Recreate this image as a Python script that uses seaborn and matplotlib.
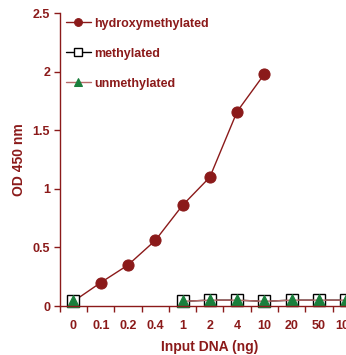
import numpy as np
import pandas as pd
import matplotlib
matplotlib.use("Agg")
import matplotlib.pyplot as plt
import seaborn as sns

# Input DNA amounts (ng), shown as evenly spaced categories
dna_labels = ["0", "0.1", "0.2", "0.4", "1", "2", "4", "10", "20", "50", "100"]

# OD 450 nm readings (NaN = not measured)
hydroxymethylated = [0.04, 0.20, 0.35, 0.56, 0.86, 1.10, 1.66, 1.98, np.nan, np.nan, np.nan]
methylated = [0.04, np.nan, np.nan, np.nan, 0.04, 0.05, 0.05, 0.04, 0.05, 0.05, 0.05]
unmethylated = [0.04, np.nan, np.nan, np.nan, 0.04, 0.05, 0.05, 0.04, 0.05, 0.05, 0.05]

y_ticks = [0, 0.5, 1, 1.5, 2, 2.5]
y_tick_labels = ["0", "0.5", "1", "1.5", "2", "2.5"]

DARK_RED = "#8b1a1a"
GREEN = "#1a7f3c"

sns.set_style("white")
plt.rcParams["font.family"] = ["Liberation Sans", "DejaVu Sans"]
plt.rcParams["font.weight"] = "bold"

fig = plt.figure(figsize=(3.46, 3.55), dpi=100)
ax = fig.add_axes([0.173, 0.138, 0.867, 0.825])

series = [
    ("hydroxymethylated", hydroxymethylated,
     dict(color=DARK_RED, marker="o", markersize=8, markerfacecolor=DARK_RED,
          markeredgecolor=DARK_RED, linewidth=1.0)),
    ("methylated", methylated,
     dict(color="black", marker="s", markersize=8, markerfacecolor="white",
          markeredgecolor="black", markeredgewidth=1.0, linewidth=1.0)),
    ("unmethylated", unmethylated,
     dict(color="#b86a6a", marker="^", markersize=9, markerfacecolor=GREEN,
          markeredgecolor=GREEN, linewidth=1.0)),
]

positions = np.arange(len(dna_labels))
for name, values, style in series:
    df = pd.DataFrame({"pos": positions, "od": values})
    # split into contiguous runs so gaps stay unconnected
    df["run"] = df["od"].isna().cumsum()
    df = df.dropna()
    for i, (_, seg) in enumerate(df.groupby("run")):
        sns.lineplot(data=seg, x="pos", y="od", ax=ax, clip_on=False,
                     label=name if i == 0 else None, **style)

ax.set_xlim(-0.5, len(dna_labels) - 0.5)
ax.set_ylim(0, 2.5)

# category labels centred, tick marks on category boundaries
ax.set_xticks(positions)
ax.set_xticklabels(dna_labels)
ax.set_xticks(np.arange(-0.5, len(dna_labels), 1.0), minor=True)
ax.tick_params(axis="x", which="major", length=0, pad=10,
               labelsize=9, labelcolor=DARK_RED)
ax.tick_params(axis="x", which="minor", length=4, width=1, color=DARK_RED,
               direction="out", bottom=True)
ax.set_yticks(y_ticks)
ax.set_yticklabels(y_tick_labels)
ax.tick_params(axis="y", length=4, width=1, color=DARK_RED, direction="out",
               left=True, labelsize=9, labelcolor=DARK_RED, pad=3)
for lab in ax.get_xticklabels() + ax.get_yticklabels():
    lab.set_fontweight("bold")

for side in ["top", "right"]:
    ax.spines[side].set_visible(False)
for side in ["left", "bottom"]:
    ax.spines[side].set_color(DARK_RED)
    ax.spines[side].set_linewidth(1.0)

ax.set_xlabel("Input DNA (ng)", fontsize=10, fontweight="bold",
              color=DARK_RED, labelpad=6)
ax.set_ylabel("OD 450 nm", fontsize=10, fontweight="bold",
              color=DARK_RED, labelpad=5)

leg = ax.legend(loc="upper left", bbox_to_anchor=(0.02, 0.985), frameon=False,
                fontsize=9, handlelength=2.0, handletextpad=0.3,
                labelspacing=1.45, borderaxespad=0.0, borderpad=0.0,
                markerscale=0.7)
for txt in leg.get_texts():
    txt.set_color(DARK_RED)
    txt.set_fontweight("bold")

fig.savefig("out.png", dpi=100)
